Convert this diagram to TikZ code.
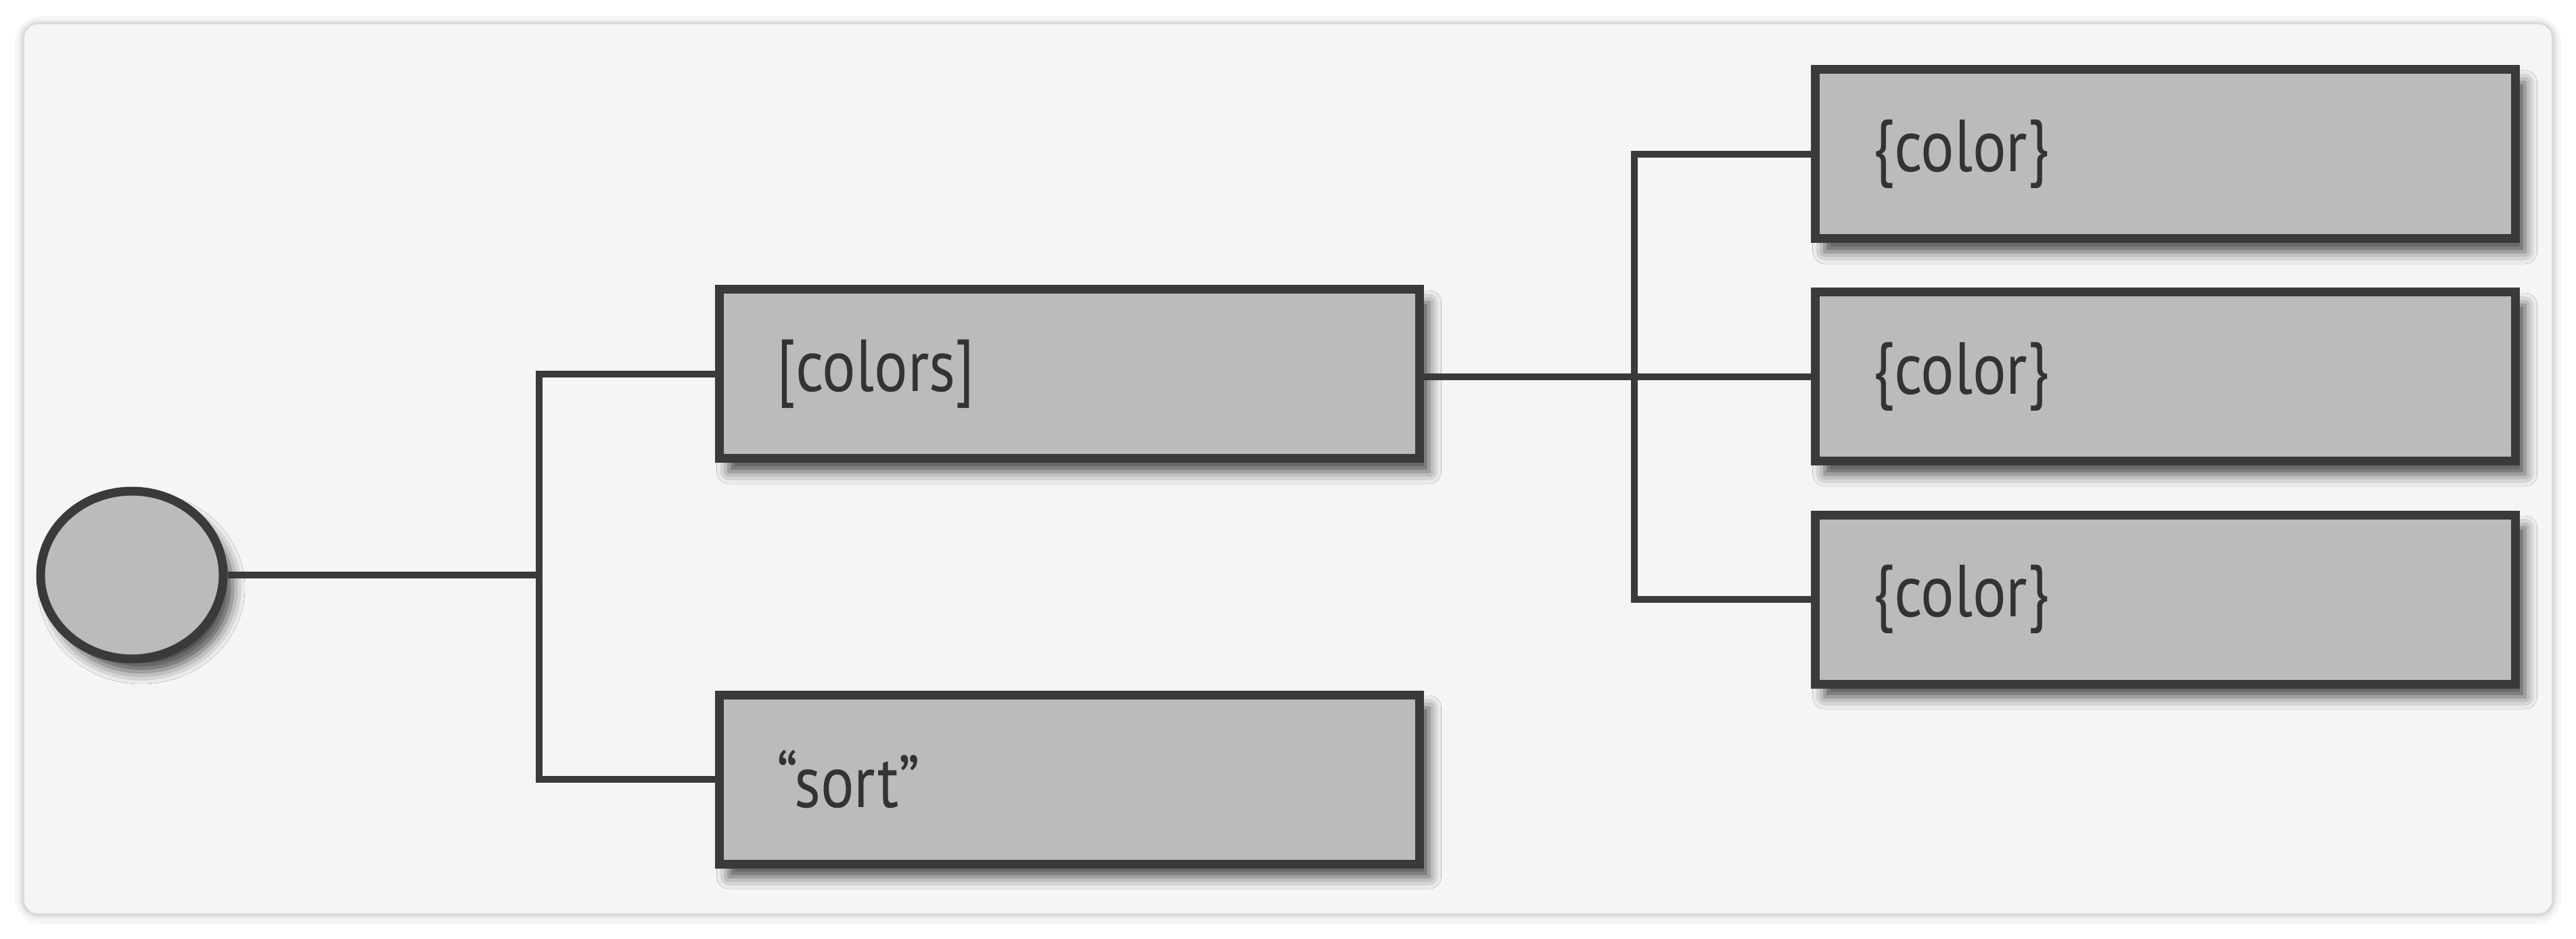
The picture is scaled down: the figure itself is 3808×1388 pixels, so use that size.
\documentclass[tikz,border=0pt]{standalone}
\usepackage{fontspec}
\setmainfont{PT Sans}[FakeStretch=0.85]
\usetikzlibrary{shapes.geometric,shadows.blur}
\definecolor{cardbg}{HTML}{F5F5F5}
\definecolor{boxfill}{HTML}{BBBBBB}
\definecolor{edgecol}{HTML}{3A3A3A}
\definecolor{txtcol}{HTML}{333333}
\begin{document}
\begin{tikzpicture}[x=0.1mm,y=-0.1mm,
  box/.style={draw=edgecol, fill=boxfill, line width=1.3mm,
    minimum width=103.5mm, minimum height=25mm, text width=86.5mm,
    inner xsep=8.5mm, align=left, font=\fontsize{31}{36}\selectfont,
    text=txtcol,
    blur shadow={shadow xshift=1.4mm, shadow yshift=-1.9mm, shadow blur radius=1.8mm, shadow opacity=70}},
  rootnode/.style={draw=edgecol, fill=boxfill, line width=1.3mm, ellipse,
    minimum width=27mm, minimum height=24.8mm, inner sep=0pt,
    blur shadow={shadow xshift=1.4mm, shadow yshift=-1.9mm, shadow blur radius=1.8mm, shadow opacity=70}},
  link/.style={draw=edgecol, line width=1mm, line join=miter}]
\useasboundingbox (0,0) rectangle (3808,1388);
\fill[white] (0,0) rectangle (3808,1388);
% card with soft shadow
\fill[black, opacity=0.04, rounded corners=4mm] (22,24) rectangle (3786,1366);
\fill[black, opacity=0.05, rounded corners=3mm] (28,30) rectangle (3780,1358);
\fill[black, opacity=0.06, rounded corners=2.5mm] (32,33) rectangle (3776,1354);
\fill[cardbg, rounded corners=2mm] (36,36) rectangle (3772,1350);
% nodes
\node[rootnode] (root) at (195,850) {};
\node[box] (colors) at (1581,553) {[colors]};
\node[box] (sort) at (1581,1152) {“sort”};
\node[box] (c1) at (3201,228) {\{color\}};
\node[box] (c2) at (3201,557) {\{color\}};
\node[box] (c3) at (3201,886) {\{color\}};
% connectors
\coordinate (j1) at (797,850);
\coordinate (j2) at (2416,557);
\draw[link] (root) -- (j1);
\draw[link] (colors.west) -| (j1) |- (sort.west);
\draw[link] (colors.east |- j2) -- (c2.west);
\draw[link] (c1.west) -| (j2) |- (c3.west);
\end{tikzpicture}
\end{document}
